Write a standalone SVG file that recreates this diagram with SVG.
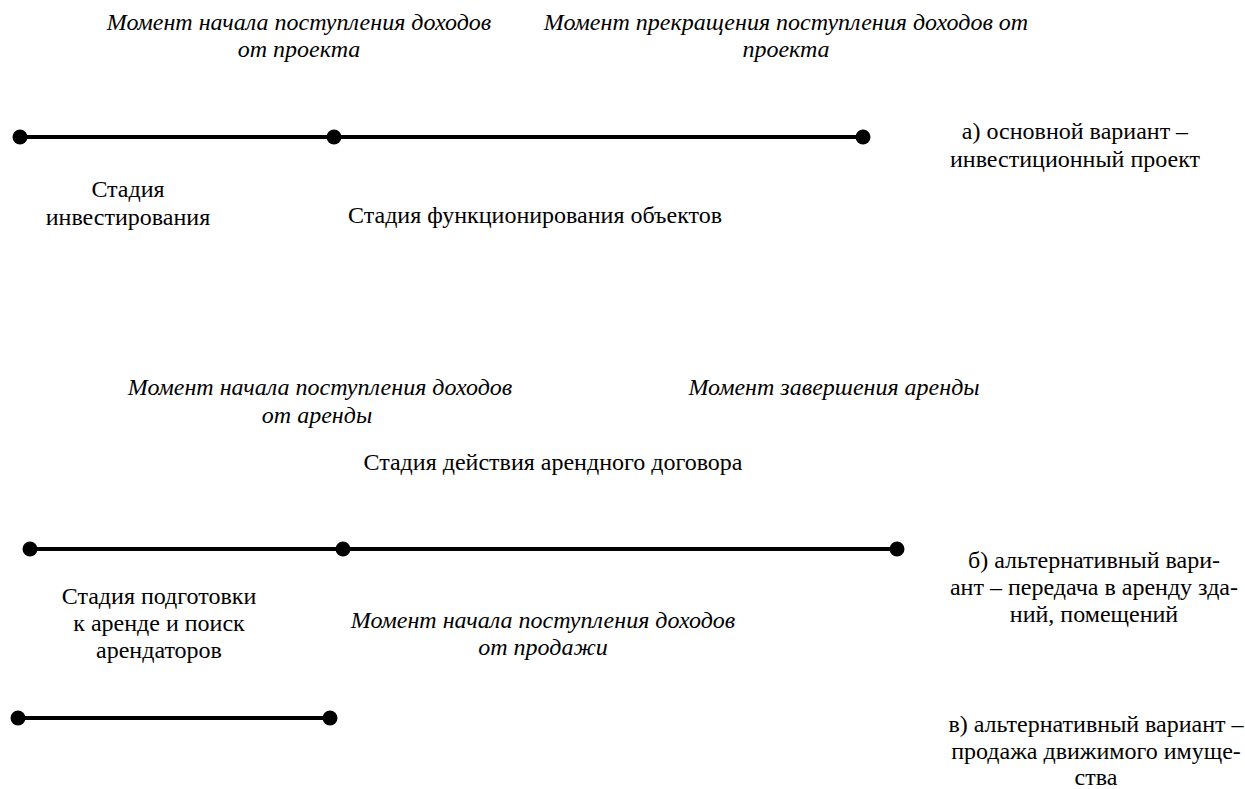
<svg xmlns="http://www.w3.org/2000/svg" width="1245" height="789" viewBox="0 0 1245 789">
<style>
.t{font-family:"Liberation Serif","Times New Roman",serif;font-size:24px;fill:#000;text-anchor:middle}
.i{font-style:italic}
.ln{stroke:#000;stroke-width:4;fill:none}
.d{fill:#000}
</style>
<rect width="1245" height="789" fill="#fff"/>
<g id="connectors">
<line class="ln" x1="20" y1="137" x2="863" y2="137"/>
<line class="ln" x1="30" y1="549" x2="897" y2="549"/>
<line class="ln" x1="18" y1="718" x2="330" y2="718"/>
</g>
<g id="dots">
<circle class="d" cx="20" cy="137" r="7.5"/>
<circle class="d" cx="334" cy="137" r="7.5"/>
<circle class="d" cx="863" cy="137" r="7.5"/>
<circle class="d" cx="30" cy="549" r="7.5"/>
<circle class="d" cx="343" cy="549" r="7.5"/>
<circle class="d" cx="897" cy="549" r="7.5"/>
<circle class="d" cx="18" cy="718" r="7.5"/>
<circle class="d" cx="330" cy="718" r="7.5"/>
</g>
<g id="label-a-start"><text class="t i" x="299" y="30">Момент начала поступления доходов</text><text class="t i" x="299" y="57">от проекта</text></g>
<g id="label-a-end"><text class="t i" x="786" y="30">Момент прекращения поступления доходов от</text><text class="t i" x="786" y="57">проекта</text></g>
<g id="label-a"><text class="t" x="1075" y="139">а) основной вариант –</text><text class="t" x="1075" y="167">инвестиционный проект</text></g>
<g id="stage-invest"><text class="t" x="128" y="197">Стадия</text><text class="t" x="128" y="225">инвестирования</text></g>
<g id="stage-func"><text class="t" x="535" y="223">Стадия функционирования объектов</text></g>
<g id="label-b-start"><text class="t i" x="320" y="395">Момент начала поступления доходов</text><text class="t i" x="317" y="423">от аренды</text></g>
<g id="label-b-end"><text class="t i" x="834" y="395">Момент завершения аренды</text></g>
<g id="stage-lease"><text class="t" x="553" y="470">Стадия действия арендного договора</text></g>
<g id="label-b"><text class="t" x="1094" y="568">б) альтернативный вари-</text><text class="t" x="1094" y="595">ант – передача в аренду зда-</text><text class="t" x="1094" y="622">ний, помещений</text></g>
<g id="stage-prep"><text class="t" x="159" y="604">Стадия подготовки</text><text class="t" x="159" y="631">к аренде и поиск</text><text class="t" x="159" y="658">арендаторов</text></g>
<g id="label-c-start"><text class="t i" x="543" y="628">Момент начала поступления доходов</text><text class="t i" x="543" y="655">от продажи</text></g>
<g id="label-c"><text class="t" x="1096" y="732">в) альтернативный вариант –</text><text class="t" x="1096" y="759">продажа движимого имуще-</text><text class="t" x="1096" y="785">ства</text></g>
</svg>
